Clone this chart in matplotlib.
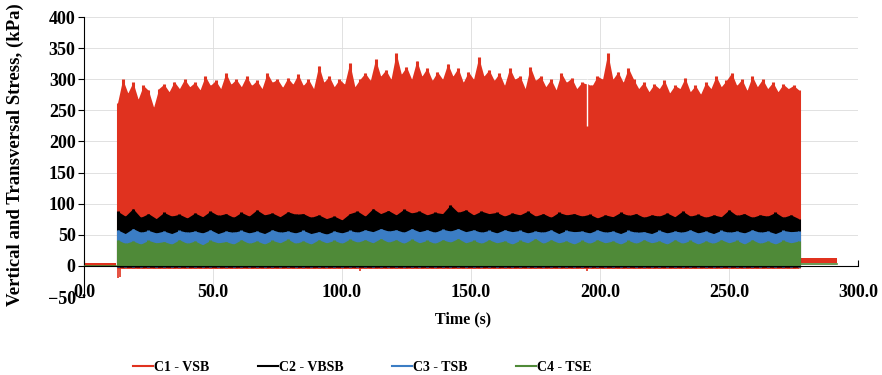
import matplotlib
matplotlib.use("Agg")
import matplotlib.pyplot as plt
import numpy as np

# envelope of each stress channel during the loading window (kPa)
LOAD_START, LOAD_END = 13.0, 277.0

C1_VSB_TOP = [262, 300, 278, 295, 268, 290, 282, 255, 285, 292, 280, 296, 285, 300, 288, 295,
              283, 305, 290, 298, 285, 310, 292, 300, 288, 305, 290, 298, 285, 310, 295, 300,
              287, 302, 292, 308, 290, 300, 285, 322, 295, 305, 288, 300, 292, 326, 288, 300,
              310, 298, 332, 305, 315, 300, 342, 308, 320, 300, 330, 305, 318, 298, 312, 300,
              325, 305, 318, 295, 312, 300, 335, 305, 315, 298, 310, 290, 318, 300, 305, 285,
              320, 298, 305, 288, 300, 283, 310, 295, 302, 285, 295, 292, 290, 305, 300, 342,
              300, 312, 295, 318, 300, 285, 295, 280, 292, 285, 298, 278, 290, 285, 302, 280,
              290, 276, 295, 285, 305, 288, 298, 310, 290, 300, 282, 305, 288, 300, 285, 295,
              280, 292, 285, 290, 283]
C2_VBSB_TOP = [88, 80, 92, 78, 84, 76, 86, 80, 83, 77, 85, 79, 88, 81, 84, 78, 86, 80, 90, 82,
               85, 79, 87, 83, 84, 78, 82, 76, 80, 74, 84, 88, 80, 92, 84, 89, 82, 91, 85, 88,
               82, 86, 84, 98, 86, 90, 82, 88, 84, 86, 80, 85, 82, 88, 80, 84, 78, 86, 82, 84,
               80, 83, 77, 82, 79, 86, 81, 84, 78, 82, 80, 85, 79, 88, 80, 83, 78, 82, 79, 90,
               81, 84, 78, 82, 80, 86, 78, 82, 76]
C3_TSB_TOP = [58, 52, 60, 54, 57, 53, 56, 52, 57, 54, 56, 53, 58, 52, 56, 54, 57, 53, 56, 52,
              58, 54, 56, 53, 57, 52, 55, 51, 56, 53, 57, 54, 58, 55, 60, 56, 58, 54, 60, 55,
              58, 54, 59, 56, 60, 55, 58, 54, 57, 53, 58, 55, 57, 53, 56, 54, 58, 52, 57, 55,
              56, 53, 58, 54, 56, 52, 57, 54, 55, 52, 57, 53, 56, 54, 58, 53, 56, 52, 57, 54,
              56, 53, 58, 54, 56, 52, 57, 55, 56]
C4_TSE_TOP = [42, 36, 40, 35, 41, 37, 39, 35, 42, 36, 40, 34, 41, 37, 39, 35, 42, 36, 40, 35,
              41, 37, 43, 36, 40, 35, 42, 37, 41, 36, 43, 38, 42, 37, 44, 38, 42, 36, 43, 37,
              41, 36, 42, 38, 44, 37, 41, 36, 42, 37, 40, 35, 41, 37, 44, 36, 42, 37, 40, 35,
              41, 36, 42, 37, 40, 35, 41, 36, 42, 37, 40, 35, 42, 36, 41, 35, 40, 36, 42, 37,
              41, 35, 42, 36, 40, 35, 41, 37, 40]
# lower bound of each channel while cycling
C1_LOW, C2_LOW, C3_LOW, C4_LOW = -4, -2, -1, 0

# quiet periods before and after loading
PRE_T = [0.0, 12.5]
C1_PRE = (0, 5)
POST_T = [278.0, 292.0]
C1_POST = (5, 12)
C4_POST = 3

# short negative dips of C1, and one brief drop of its peak
C1_DIP_T = [13.2, 14.0, 107.0, 195.0]
C1_DIP = [-20, -18, -8, -9]
C1_DROP_T = 195.0
C1_DROP = 225

RED, BLACK, BLUE, GREEN = "#e0321f", "#000000", "#3b7dc4", "#4f8a38"

plt.rcParams["font.family"] = "Liberation Serif"
plt.rcParams["font.weight"] = "bold"

fig = plt.figure(figsize=(8.82, 3.75), dpi=100)
ax = fig.add_axes([0.0952, 0.208, 0.8776, 0.7466])


def band(top, low, color, z):
    top = np.asarray(top, float)
    t = np.linspace(LOAD_START, LOAD_END, len(top))
    # jagged body between neighbouring peaks, spikes drawn on top
    ax.fill_between(t, low, top, color=color, lw=0, zorder=z)
    ax.vlines(t, low, top, color=color, lw=2.2, zorder=z)


band(C1_VSB_TOP, C1_LOW, RED, 2)
band(C2_VBSB_TOP, C2_LOW, BLACK, 3)
band(C3_TSB_TOP, C3_LOW, BLUE, 4)
band(C4_TSE_TOP, C4_LOW, GREEN, 5)

ax.vlines(C1_DROP_T, C1_DROP, 300, color="white", lw=1.0, zorder=2.5)
ax.vlines(C1_DIP_T, 0, C1_DIP, color=RED, lw=1.2, zorder=2)
ax.fill_between(PRE_T, *C1_PRE, color=RED, lw=0, zorder=2)
ax.plot(PRE_T, [0, 0], color=GREEN, lw=1.2, zorder=5)
ax.fill_between(POST_T, *C1_POST, color=RED, lw=0, zorder=2)
ax.plot(POST_T, [C4_POST, C4_POST], color=GREEN, lw=1.2, zorder=5)

ax.set_xlim(0, 300)
ax.set_ylim(-50, 400)
ax.set_yticks(np.arange(-50, 401, 50))
ax.set_xticks(np.arange(0, 301, 50))
ax.set_xticklabels([f"{v:.1f}" for v in np.arange(0, 301, 50)])
ax.grid(True, color="#dcdcdc", lw=0.6, zorder=0)
ax.set_axisbelow(True)

for s in ("top", "right"):
    ax.spines[s].set_visible(False)
ax.spines["bottom"].set_position(("data", 0))
ax.spines["bottom"].set_zorder(6)
ax.spines["left"].set_linewidth(0.8)
ax.spines["bottom"].set_linewidth(0.8)
ax.tick_params(axis="x", direction="in", length=4, pad=13, labelsize=13)
ax.tick_params(axis="y", direction="out", length=4, pad=2, labelsize=13)

ax.set_xlabel("Time (s)", fontsize=11.5, fontweight="bold")
ax.xaxis.set_label_coords(0.49, -0.052)
ax.set_ylabel("Vertical and Transversal Stress, (kPa)", fontsize=13.5, fontweight="bold")
ax.yaxis.set_label_coords(-0.077, 0.51)

handles = [plt.Line2D([], [], color=c, lw=1.5) for c in (RED, BLACK, BLUE, GREEN)]
fig.legend(handles, ["C1 - VSB", "C2 - VBSB", "C3 - TSB", "C4 - TSE"],
           loc="center", bbox_to_anchor=(0.411, 0.02), ncol=4, frameon=False,
           fontsize=10, handlelength=1.4, handletextpad=0.1, columnspacing=3.5)

fig.savefig("out.png", dpi=100)
